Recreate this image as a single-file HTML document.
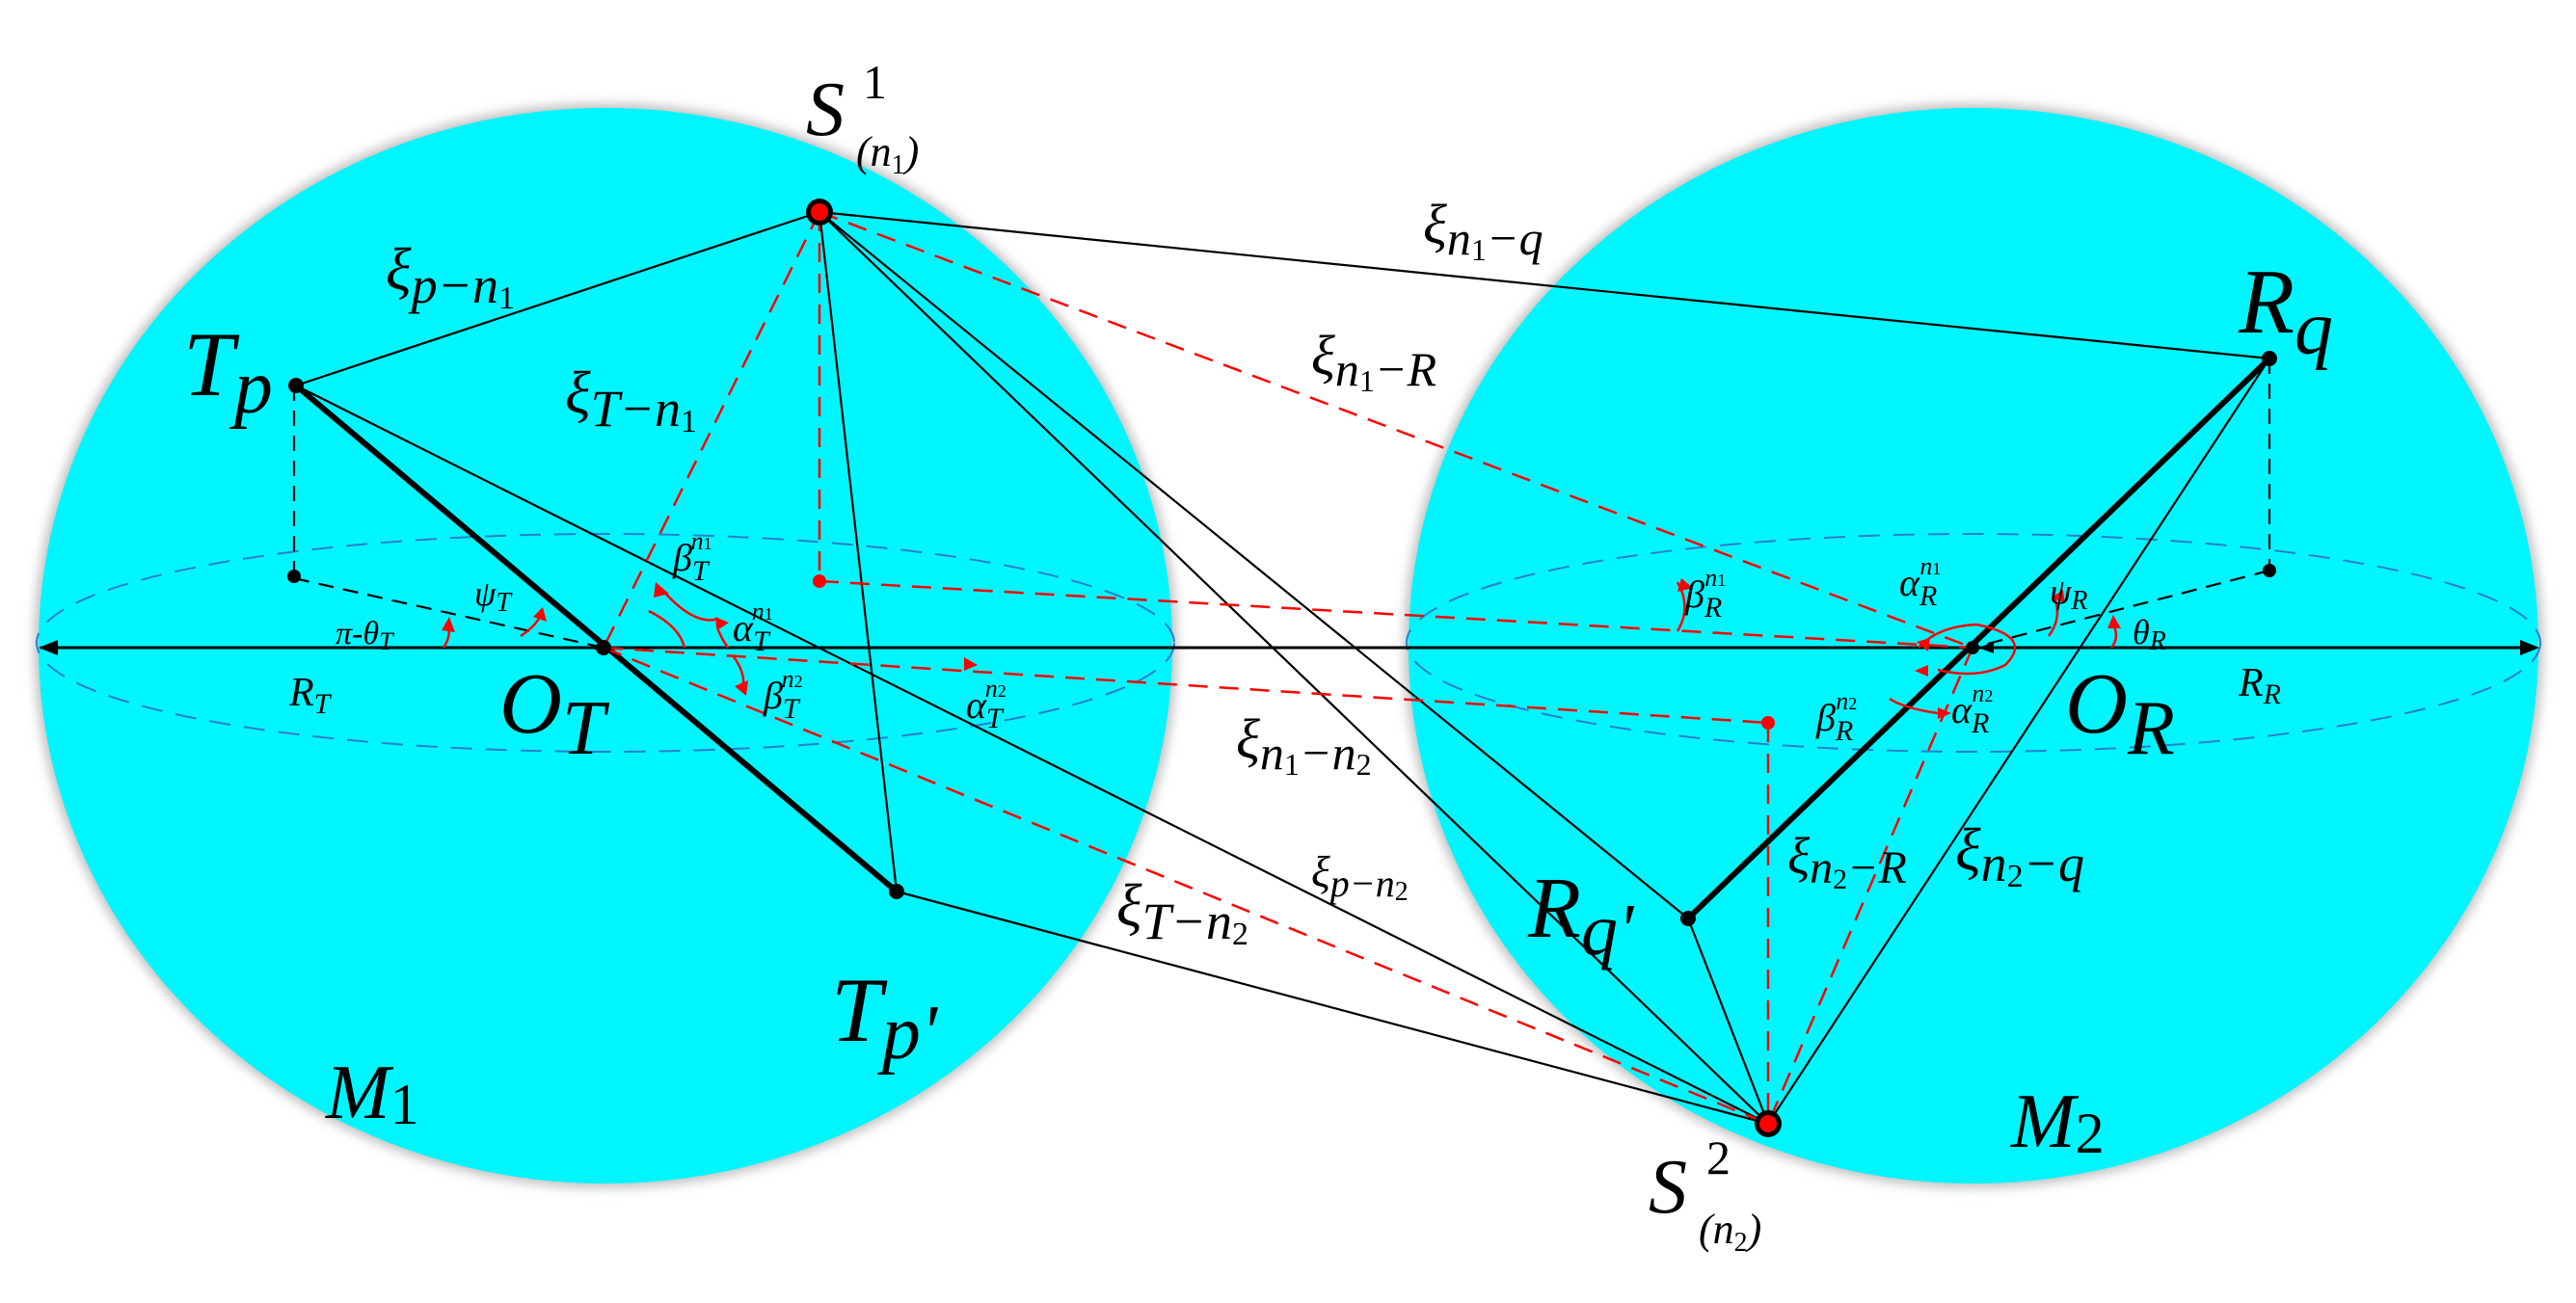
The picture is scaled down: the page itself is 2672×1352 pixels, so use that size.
<!DOCTYPE html>
<html><head><meta charset="utf-8"><style>
html,body{margin:0;padding:0;background:#fff}
svg{display:block}
text{font-family:"Liberation Serif",serif;font-style:italic;fill:#000}
.n{font-style:normal}
</style></head><body>
<svg width="2672" height="1352" viewBox="0 0 2672 1352" xmlns="http://www.w3.org/2000/svg">
<defs>
<filter id="sh" x="-10%" y="-10%" width="120%" height="120%"><feGaussianBlur stdDeviation="6"/></filter>
</defs>
<ellipse cx="628" cy="670" rx="592" ry="562" fill="#bbb" filter="url(#sh)"/>
<ellipse cx="2047" cy="670" rx="590" ry="562" fill="#bbb" filter="url(#sh)"/>
<ellipse cx="628" cy="670" rx="588" ry="558" fill="#00f6ff"/>
<ellipse cx="2047" cy="670" rx="586" ry="558" fill="#00f6ff"/>
<ellipse cx="628" cy="667" rx="590" ry="113" fill="none" stroke="#2a7fd0" stroke-width="2" stroke-dasharray="22,14"/>
<ellipse cx="2047" cy="667" rx="588" ry="113" fill="none" stroke="#2a7fd0" stroke-width="2" stroke-dasharray="22,14"/>
<line x1="42" y1="672" x2="2630" y2="672" stroke="#000" stroke-width="3"/>
<path d="M40,672 L60,664 L60,680 z" fill="#000"/>
<path d="M2634,672 L2614,664 L2614,680 z" fill="#000"/>
<path d="M612,672 L628,666 L628,678 z" fill="#000"/>
<path d="M2052,672 L2068,666 L2068,678 z" fill="#000"/>
<g stroke="#000" stroke-width="2.2" fill="none">
<line x1="307" y1="400" x2="850" y2="220"/>
<line x1="850" y1="220" x2="2354" y2="372"/>
<line x1="850" y1="220" x2="930" y2="925"/>
<line x1="850" y1="220" x2="1834" y2="1166"/>
<line x1="850" y1="220" x2="1751" y2="953"/>
<line x1="307" y1="400" x2="1834" y2="1166"/>
<line x1="930" y1="925" x2="1834" y2="1166"/>
<line x1="1751" y1="953" x2="1834" y2="1166"/>
<line x1="2354" y1="372" x2="1834" y2="1166"/>
</g>
<line x1="307" y1="400" x2="930" y2="925" stroke="#000" stroke-width="6"/>
<line x1="2354" y1="372" x2="1751" y2="953" stroke="#000" stroke-width="6"/>
<g stroke="#000" stroke-width="2.2" stroke-dasharray="16,10" fill="none">
<line x1="305" y1="400" x2="305" y2="600"/>
<line x1="305" y1="600" x2="626" y2="672"/>
<line x1="2354" y1="372" x2="2354" y2="592"/>
<line x1="2354" y1="592" x2="2046" y2="672"/>
</g>
<g stroke="red" stroke-width="2.5" stroke-dasharray="20,12" fill="none">
<line x1="850" y1="220" x2="626" y2="672"/>
<line x1="850" y1="220" x2="850" y2="600"/>
<line x1="850" y1="220" x2="2046" y2="672"/>
<line x1="850" y1="603" x2="2046" y2="672"/>
<line x1="626" y1="672" x2="1834" y2="750"/>
<line x1="626" y1="672" x2="1834" y2="1166"/>
<line x1="2046" y1="672" x2="1834" y2="1166"/>
<line x1="1834" y1="750" x2="1834" y2="1166"/>
</g>
<g stroke="red" stroke-width="2.5" fill="none">
<path d="M673,634 Q705,650 710,672" />
<path d="M686,611 Q720,650 745,642"/>
<path d="M745,642 Q740,650 755,672"/>
<path d="M760,680 Q775,700 770,718"/>
<path d="M540,660 Q555,650 560,640"/>
<path d="M460,672 Q468,660 465,650"/>
<path d="M1740,604 Q1755,630 1740,655"/>
<path d="M1990,672 Q2010,650 2050,648 Q2110,660 2080,690 Q2050,705 2010,695"/>
<path d="M2130,617 Q2140,640 2125,660"/>
<path d="M2190,672 Q2200,660 2190,645"/>
<path d="M1960,725 Q1975,735 2010,740"/>
</g>
<g fill="red">
<path d="M680,604 L694,616 L678,620 z"/>
<path d="M742,640 L756,646 L744,654 z"/>
<path d="M762,712 L776,706 L774,722 z"/>
<path d="M553,640 L563,630 L567,645 z"/>
<path d="M458,654 L466,640 L472,656 z"/>
<path d="M1000,682 L1014,690 L1000,696 z"/>
<path d="M1744,600 L1756,610 L1740,614 z"/>
<path d="M1988,666 L2002,662 L2000,676 z"/>
<path d="M2000,702 L1986,696 L2000,690 z"/>
<path d="M2128,620 L2140,612 L2142,626 z"/>
<path d="M2186,652 L2192,638 L2200,652 z"/>
<path d="M2010,746 L2024,740 L2010,734 z"/>
</g>
<circle cx="850" cy="220" r="14" fill="#000"/><circle cx="850" cy="220" r="9" fill="red"/>
<circle cx="1834" cy="1166" r="14" fill="#000"/><circle cx="1834" cy="1166" r="9" fill="red"/>
<circle cx="307" cy="400" r="8" fill="#000"/>
<circle cx="305" cy="598" r="7" fill="#000"/>
<circle cx="930" cy="925" r="8" fill="#000"/>
<circle cx="2354" cy="372" r="8" fill="#000"/>
<circle cx="2354" cy="592" r="7" fill="#000"/>
<circle cx="1751" cy="953" r="8" fill="#000"/>
<circle cx="626" cy="672" r="8" fill="#000"/>
<circle cx="2046" cy="672" r="7" fill="#000"/>
<circle cx="850" cy="603" r="7" fill="red"/>
<circle cx="1834" cy="750" r="7" fill="red"/>
<text x="190" y="410" font-size="95">T<tspan font-size="80" dy="18">p</tspan></text>
<text x="836" y="140" font-size="80">S</text>
<text x="895" y="102" font-size="50" class="n">1</text>
<text x="888" y="172" font-size="44">(n<tspan font-size="28" dy="8" class="n">1</tspan><tspan dy="-8">)</tspan></text>
<text x="400" y="300" font-size="62">ξ<tspan font-size="54" dy="14">p−n<tspan font-size="34" dy="6" class="n">1</tspan></tspan></text>
<text x="586" y="428" font-size="62">ξ<tspan font-size="54" dy="14">T−n<tspan font-size="34" dy="6" class="n">1</tspan></tspan></text>
<text x="698" y="592" font-size="40">β<tspan font-size="30" dy="10">T</tspan><tspan font-size="26" dx="-18" dy="-32">n<tspan font-size="18" class="n">1</tspan></tspan></text>
<text x="760" y="665" font-size="40">α<tspan font-size="30" dy="10">T</tspan><tspan font-size="26" dx="-18" dy="-32">n<tspan font-size="18" class="n">1</tspan></tspan></text>
<text x="492" y="628" font-size="36">ψ<tspan font-size="28" dy="6">T</tspan></text>
<text x="348" y="668" font-size="34">π-θ<tspan font-size="26" dy="6">T</tspan></text>
<text x="300" y="732" font-size="42">R<tspan font-size="30" dy="8">T</tspan></text>
<text x="518" y="760" font-size="90">O<tspan font-size="80" dy="22">T</tspan></text>
<text x="792" y="735" font-size="40">β<tspan font-size="30" dy="10">T</tspan><tspan font-size="26" dx="-18" dy="-32">n<tspan font-size="18" class="n">2</tspan></tspan></text>
<text x="1002" y="745" font-size="40">α<tspan font-size="30" dy="10">T</tspan><tspan font-size="26" dx="-18" dy="-32">n<tspan font-size="18" class="n">2</tspan></tspan></text>
<text x="1158" y="960" font-size="62">ξ<tspan font-size="54" dy="14">T−n<tspan font-size="34" dy="6" class="n">2</tspan></tspan></text>
<text x="862" y="1080" font-size="95">T<tspan font-size="80" dy="18">p'</tspan></text>
<text x="338" y="1160" font-size="80">M<tspan font-size="60" class="n" dy="6">1</tspan></text>
<text x="1476" y="252" font-size="58">ξ<tspan font-size="50" dy="12">n<tspan font-size="32" dy="6" class="n">1</tspan><tspan dy="-6">−q</tspan></tspan></text>
<text x="1360" y="388" font-size="58">ξ<tspan font-size="50" dy="12">n<tspan font-size="32" dy="6" class="n">1</tspan><tspan dy="-6">−R</tspan></tspan></text>
<text x="1282" y="786" font-size="58">ξ<tspan font-size="50" dy="12">n<tspan font-size="32" dy="6" class="n">1</tspan><tspan dy="-6">−n</tspan><tspan font-size="32" dy="6" class="n">2</tspan></tspan></text>
<text x="1360" y="920" font-size="46">ξ<tspan font-size="40" dy="10">p−n<tspan font-size="28" dy="4" class="n">2</tspan></tspan></text>
<text x="2322" y="345" font-size="95">R<tspan font-size="80" dy="22">q</tspan></text>
<text x="1748" y="630" font-size="40">β<tspan font-size="30" dy="10">R</tspan><tspan font-size="26" dx="-18" dy="-32">n<tspan font-size="18" class="n">1</tspan></tspan></text>
<text x="1970" y="618" font-size="40">α<tspan font-size="30" dy="10">R</tspan><tspan font-size="26" dx="-18" dy="-32">n<tspan font-size="18" class="n">1</tspan></tspan></text>
<text x="2126" y="626" font-size="36">ψ<tspan font-size="28" dy="6">R</tspan></text>
<text x="2212" y="668" font-size="36">θ<tspan font-size="28" dy="6">R</tspan></text>
<text x="2322" y="722" font-size="42">R<tspan font-size="30" dy="8">R</tspan></text>
<text x="2142" y="760" font-size="90">O<tspan font-size="80" dy="22">R</tspan></text>
<text x="1884" y="758" font-size="40">β<tspan font-size="30" dy="10">R</tspan><tspan font-size="26" dx="-18" dy="-32">n<tspan font-size="18" class="n">2</tspan></tspan></text>
<text x="2024" y="750" font-size="40">α<tspan font-size="30" dy="10">R</tspan><tspan font-size="26" dx="-18" dy="-32">n<tspan font-size="18" class="n">2</tspan></tspan></text>
<text x="1854" y="906" font-size="54">ξ<tspan font-size="48" dy="10">n<tspan font-size="30" dy="6" class="n">2</tspan><tspan dy="-6">−R</tspan></tspan></text>
<text x="2028" y="902" font-size="62">ξ<tspan font-size="54" dy="12">n<tspan font-size="34" dy="6" class="n">2</tspan><tspan dy="-6">−q</tspan></tspan></text>
<text x="1585" y="972" font-size="90">R<tspan font-size="76" dy="18">q'</tspan></text>
<text x="2086" y="1190" font-size="80">M<tspan font-size="60" class="n" dy="6">2</tspan></text>
<text x="1710" y="1258" font-size="80">S</text>
<text x="1770" y="1218" font-size="50" class="n">2</text>
<text x="1762" y="1290" font-size="44">(n<tspan font-size="28" dy="8" class="n">2</tspan><tspan dy="-8">)</tspan></text>
</svg>
</body></html>
